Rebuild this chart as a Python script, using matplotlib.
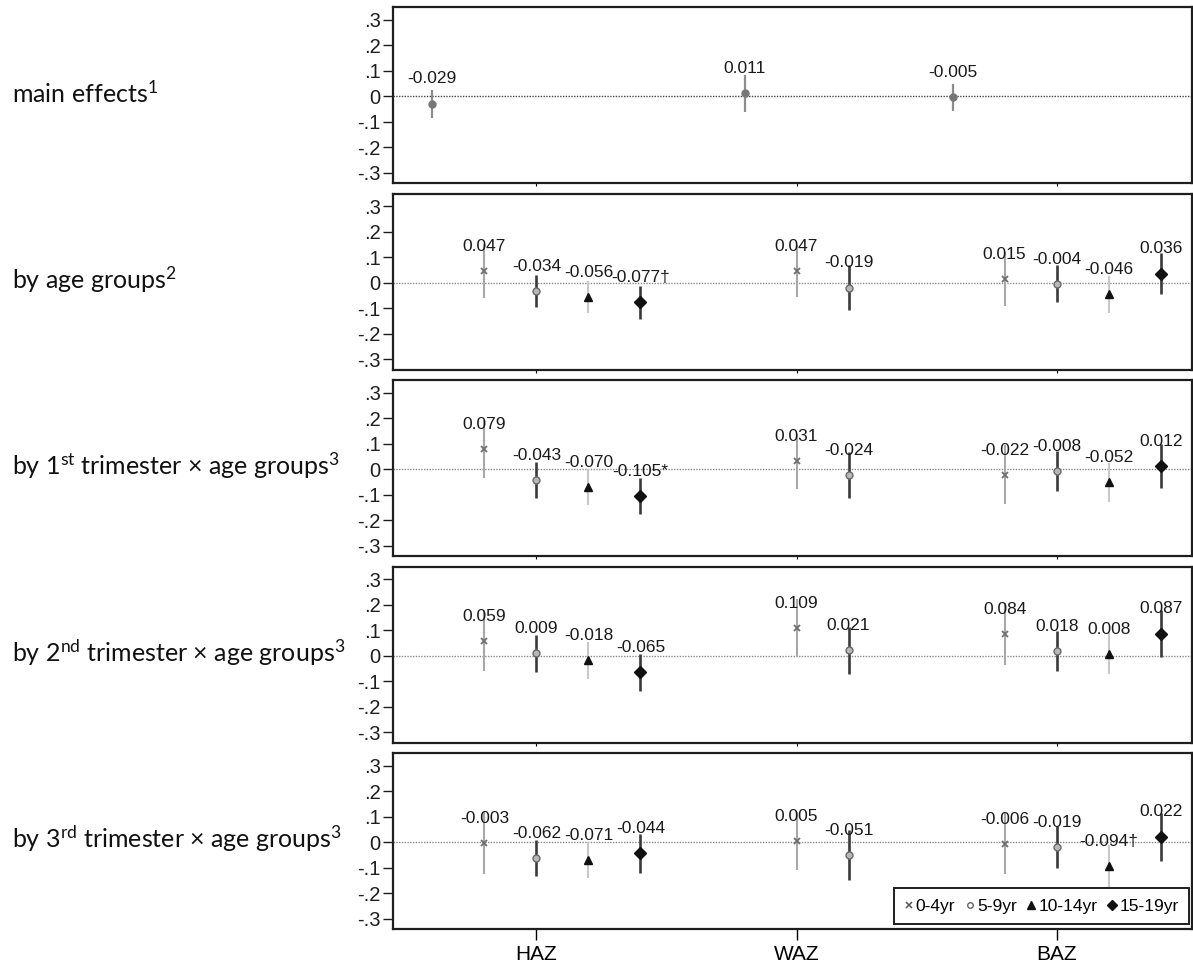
import matplotlib
matplotlib.use("Agg")
import matplotlib.pyplot as plt
from matplotlib.lines import Line2D

plt.rcParams['mathtext.fontset'] = 'custom'
plt.rcParams['mathtext.rm'] = 'Lato'
plt.rcParams['mathtext.it'] = 'Lato:italic'
plt.rcParams['mathtext.default'] = 'rm'
plt.rcParams['font.family'] = ['Liberation Sans', 'DejaVu Sans']

# ---------------- data ----------------
outcomes = ["HAZ", "WAZ", "BAZ"]
age_groups = ["0-4yr", "5-9yr", "10-14yr", "15-19yr"]
ages_per_outcome = [4, 2, 4]
panel_labels = [
    "main effects$^{1}$",
    "by age groups$^{2}$",
    "by 1$^{\\rm st}$ trimester \u00d7 age groups$^{3}$",
    "by 2$^{\\rm nd}$ trimester \u00d7 age groups$^{3}$",
    "by 3$^{\\rm rd}$ trimester \u00d7 age groups$^{3}$",
]
yticks = [0.3, 0.2, 0.1, 0.0, -0.1, -0.2, -0.3]
ytick_labels = [".3", ".2", ".1", "0", "-.1", "-.2", "-.3"]

# main effects (HAZ, WAZ, BAZ)
main_est = [-0.029, 0.011, -0.005]
main_lo = [-0.084, -0.063, -0.058]
main_hi = [0.026, 0.085, 0.048]
main_sig = ["", "", ""]

# by age groups (HAZ 0-4..15-19, WAZ 0-4, 5-9, BAZ 0-4..15-19)
age_est = [0.047, -0.034, -0.056, -0.077, 0.047, -0.019, 0.015, -0.004, -0.046, 0.036]
age_lo = [-0.059, -0.097, -0.118, -0.141, -0.055, -0.106, -0.092, -0.076, -0.118, -0.046]
age_hi = [0.153, 0.030, 0.006, -0.013, 0.149, 0.068, 0.122, 0.068, 0.026, 0.118]
age_sig = ["", "", "", "\u2020", "", "", "", "", "", ""]

# by 1st trimester x age groups
t1_est = [0.079, -0.043, -0.070, -0.105, 0.031, -0.024, -0.022, -0.008, -0.052, 0.012]
t1_lo = [-0.034, -0.113, -0.140, -0.176, -0.076, -0.114, -0.138, -0.086, -0.130, -0.074]
t1_hi = [0.192, 0.027, 0.000, -0.034, 0.138, 0.066, 0.094, 0.070, 0.026, 0.098]
t1_sig = ["", "", "", "*", "", "", "", "", "", ""]

# by 2nd trimester x age groups
t2_est = [0.059, 0.009, -0.018, -0.065, 0.109, 0.021, 0.084, 0.018, 0.008, 0.087]
t2_lo = [-0.059, -0.063, -0.091, -0.137, -0.004, -0.072, -0.037, -0.059, -0.072, -0.007]
t2_hi = [0.177, 0.081, 0.055, 0.007, 0.222, 0.114, 0.205, 0.095, 0.088, 0.181]
t2_sig = ["", "", "", "", "", "", "", "", "", ""]

# by 3rd trimester x age groups
t3_est = [-0.003, -0.062, -0.071, -0.044, 0.005, -0.051, -0.006, -0.019, -0.094, 0.022]
t3_lo = [-0.125, -0.134, -0.142, -0.119, -0.108, -0.149, -0.125, -0.101, -0.178, -0.072]
t3_hi = [0.119, 0.010, 0.000, 0.031, 0.118, 0.047, 0.113, 0.063, -0.010, 0.116]
t3_sig = ["", "", "", "", "", "", "", "", "\u2020", ""]

# ---------------- styles ----------------
age_ci_color = ["#a8a8a8", "#3a3a3a", "#c8c8c8", "#3a3a3a"]
age_ci_lw = [1.5, 1.9, 1.5, 1.9]
age_marker = [
    dict(marker="x", color="#6e6e6e", ms=4.5, mew=1.3),
    dict(marker="o", mfc="#b8b8b8", mec="#6a6a6a", ms=5, mew=1.0),
    dict(marker="^", color="#111111", ms=5.5),
    dict(marker="D", color="#111111", ms=6.2),
]
main_marker = dict(marker="o", color="#777777", ms=5)
main_ci_color = "#8c8c8c"

# positions: each outcome block = main slot + age slots, separated by a gap slot
bases = []
start = 0
for n in ages_per_outcome:
    bases.append(start)
    start += n + 2
tick_pos = [b + n / 2 for b, n in zip(bases, ages_per_outcome)]

W, H = 1193, 966
fig = plt.figure(figsize=(W / 100, H / 100), dpi=100)

left_px, right_px = 393.3, 1192
top0_px, pitch_px, height_px = 7.3, 186.5, 176.0

panels = [
    (age_est, age_lo, age_hi, age_sig),
    (t1_est, t1_lo, t1_hi, t1_sig),
    (t2_est, t2_lo, t2_hi, t2_sig),
    (t3_est, t3_lo, t3_hi, t3_sig),
]

label_fs = 12.5
axes = []
for p in range(5):
    top = top0_px + p * pitch_px
    ax = fig.add_axes([left_px / W, 1 - (top + height_px) / H,
                       (right_px - left_px) / W, height_px / H])
    axes.append(ax)
    ax.set_xlim(-0.75, 14.6)
    ax.set_ylim(-0.342, 0.349)
    zcol = "#444444" if p == 0 else "#8a8a8a"
    ax.axhline(0, color=zcol, lw=1.0, ls=(0, (1, 1)), zorder=1)
    for s in ax.spines.values():
        s.set_linewidth(1.6)
        s.set_color("#1e1e1e")
    ax.set_yticks(yticks)
    ax.set_yticklabels(ytick_labels, fontsize=14.5)
    ax.tick_params(axis="y", length=7, width=1.0, pad=2, colors="#1e1e1e")
    ax.set_xticks(tick_pos)
    if p == 4:
        ax.set_xticklabels(outcomes, fontsize=15)
        ax.tick_params(axis="x", length=8, width=1.0, pad=3)
    else:
        ax.set_xticklabels([])
        ax.tick_params(axis="x", length=2, width=0.8)

    if p == 0:
        for i in range(3):
            x = bases[i]
            ax.vlines(x, main_lo[i], main_hi[i], color=main_ci_color, lw=1.6, zorder=2)
            ax.plot([x], [main_est[i]], ls="none", zorder=3, **main_marker)
            ax.annotate(f"{main_est[i]:.3f}{main_sig[i]}", xy=(x, main_est[i]),
                        xytext=(0, 14.5), textcoords="offset points",
                        ha="center", va="baseline", fontsize=label_fs,
                        color="#1a1a1a", zorder=4)
    else:
        est, lo, hi, sig = panels[p - 1]
        k = 0
        for i, n in enumerate(ages_per_outcome):
            for j in range(n):
                x = bases[i] + 1 + j
                ax.vlines(x, lo[k], hi[k], color=age_ci_color[j], lw=age_ci_lw[j], zorder=2)
                ax.plot([x], [est[k]], ls="none", zorder=3, **age_marker[j])
                ax.annotate(f"{est[k]:.3f}{sig[k]}", xy=(x, est[k]),
                            xytext=(0, 14.5), textcoords="offset points",
                            ha="center", va="baseline", fontsize=label_fs,
                            color="#1a1a1a", zorder=4)
                k += 1

    ax.annotate(panel_labels[p], xy=(12 / W, 0.012),
                xycoords=(fig.transFigure, ax.transData),
                ha="left", va="center", fontsize=18, family="Lato",
                color="#111111", annotation_clip=False)

# legend in the last panel
handles = [
    Line2D([], [], ls="none", marker="x", color="#555555", ms=4, mew=1.1),
    Line2D([], [], ls="none", marker="o", mfc="white", mec="#666666", ms=4, mew=1.0),
    Line2D([], [], ls="none", marker="^", color="#111111", ms=5.5),
    Line2D([], [], ls="none", marker="D", color="#111111", ms=5),
]
ax = axes[-1]
leg = ax.legend(handles, age_groups, ncol=4, loc="lower right",
                bbox_to_anchor=(0.996, 0.03), borderaxespad=0,
                fontsize=12.5, handlelength=0.5, handletextpad=0.15,
                columnspacing=0.6, borderpad=0.6, fancybox=False,
                framealpha=1, edgecolor="#1e1e1e")
leg.get_frame().set_linewidth(1.4)

fig.savefig("out.png", dpi=100)
